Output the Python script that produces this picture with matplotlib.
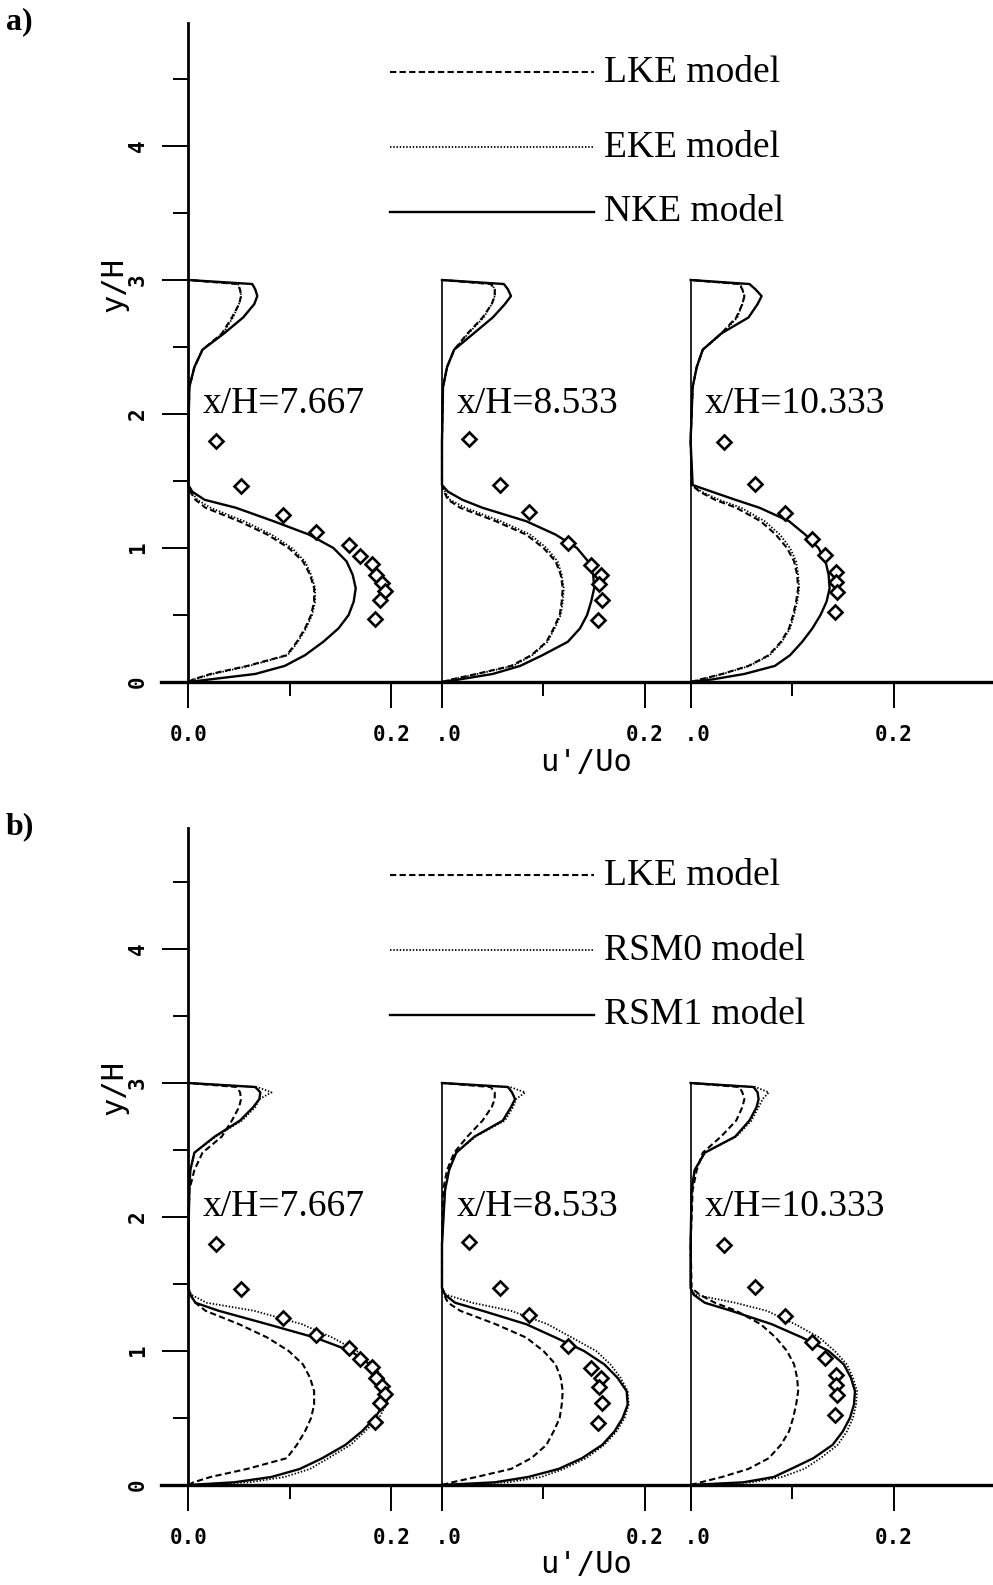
import numpy as np
import matplotlib.pyplot as plt

# wall-normal positions (y/H) shared by every computed profile
y_grid = [0.0, 0.02, 0.06, 0.12, 0.2, 0.3, 0.4, 0.5, 0.6, 0.7, 0.8, 0.9, 1.0, 1.1, 1.2,
          1.3, 1.36, 1.42, 1.47, 1.8, 2.2, 2.35, 2.48, 2.6, 2.72, 2.82, 2.88, 2.93, 2.97, 3.0]

stations = ["x/H=7.667", "x/H=8.533", "x/H=10.333"]
offsets = [0.0, 0.25, 0.495]   # horizontal shift of each station profile

# u'/Uo of each model at the three stations
lke_u = [
    [0, 0.005, 0.022, 0.058, 0.097, 0.107, 0.115, 0.121, 0.124, 0.124, 0.120, 0.113, 0.099, 0.078, 0.050,
     0.017, 0.007, 0.002, 0.0, 0.0, 0.001, 0.006, 0.014, 0.033, 0.043, 0.050, 0.052, 0.051, 0.048, 0.0],
    [0, 0.010, 0.034, 0.068, 0.088, 0.103, 0.110, 0.116, 0.118, 0.119, 0.117, 0.112, 0.100, 0.083, 0.053,
     0.018, 0.006, 0.002, 0.0, 0.0, 0.001, 0.005, 0.012, 0.025, 0.040, 0.049, 0.052, 0.052, 0.048, 0.0],
    [0, 0.010, 0.031, 0.057, 0.077, 0.089, 0.097, 0.101, 0.104, 0.106, 0.105, 0.102, 0.095, 0.084, 0.069,
     0.045, 0.024, 0.009, 0.001, 0.0, 0.002, 0.006, 0.012, 0.030, 0.045, 0.051, 0.053, 0.051, 0.048, 0.0],
]
eke_u = [
    [0, 0.006, 0.024, 0.060, 0.098, 0.108, 0.116, 0.122, 0.125, 0.125, 0.121, 0.115, 0.102, 0.082, 0.055,
     0.022, 0.009, 0.003, 0.0, 0.0, 0.001, 0.006, 0.014, 0.034, 0.044, 0.050, 0.052, 0.051, 0.049, 0.0],
    [0, 0.011, 0.035, 0.070, 0.089, 0.104, 0.111, 0.117, 0.119, 0.120, 0.118, 0.114, 0.103, 0.087, 0.058,
     0.023, 0.008, 0.003, 0.0, 0.0, 0.001, 0.005, 0.012, 0.026, 0.041, 0.049, 0.052, 0.052, 0.049, 0.0],
    [0, 0.011, 0.032, 0.058, 0.078, 0.090, 0.098, 0.102, 0.105, 0.107, 0.106, 0.104, 0.098, 0.088, 0.073,
     0.050, 0.028, 0.011, 0.001, 0.0, 0.002, 0.006, 0.012, 0.031, 0.046, 0.051, 0.053, 0.051, 0.049, 0.0],
]
nke_u = [
    [0, 0.022, 0.066, 0.095, 0.115, 0.133, 0.148, 0.158, 0.163, 0.165, 0.162, 0.156, 0.143, 0.119, 0.084,
     0.047, 0.016, 0.004, 0.0, 0.0, 0.001, 0.006, 0.014, 0.035, 0.054, 0.065, 0.068, 0.066, 0.063, 0.0],
    [0, 0.018, 0.050, 0.077, 0.099, 0.124, 0.136, 0.143, 0.147, 0.150, 0.149, 0.144, 0.133, 0.112, 0.083,
     0.040, 0.020, 0.006, 0.0, 0.0, 0.001, 0.005, 0.012, 0.031, 0.050, 0.062, 0.068, 0.065, 0.061, 0.0],
    [0, 0.022, 0.053, 0.083, 0.098, 0.110, 0.120, 0.128, 0.134, 0.137, 0.136, 0.133, 0.126, 0.113, 0.097,
     0.068, 0.044, 0.021, 0.002, 0.0, 0.002, 0.006, 0.012, 0.030, 0.057, 0.066, 0.070, 0.064, 0.058, 0.0],
]
rsm0_u = [
    [0, 0.060, 0.095, 0.120, 0.138, 0.160, 0.174, 0.188, 0.195, 0.197, 0.192, 0.182, 0.166, 0.142, 0.112,
     0.065, 0.018, 0.003, 0.0, 0.0, 0.001, 0.002, 0.006, 0.027, 0.053, 0.066, 0.070, 0.082, 0.068, 0.0],
    [0, 0.065, 0.098, 0.120, 0.142, 0.160, 0.172, 0.180, 0.184, 0.183, 0.176, 0.166, 0.152, 0.128, 0.104,
     0.068, 0.030, 0.004, 0.0, 0.0, 0.003, 0.007, 0.014, 0.033, 0.062, 0.070, 0.073, 0.082, 0.067, 0.0],
    [0, 0.060, 0.090, 0.112, 0.128, 0.145, 0.154, 0.160, 0.163, 0.164, 0.160, 0.154, 0.142, 0.127, 0.103,
     0.075, 0.044, 0.004, 0.0, 0.0, 0.001, 0.004, 0.014, 0.045, 0.060, 0.067, 0.071, 0.077, 0.064, 0.0],
]
rsm1_u = [
    [0, 0.045, 0.082, 0.110, 0.132, 0.155, 0.171, 0.184, 0.192, 0.194, 0.189, 0.179, 0.160, 0.125, 0.078,
     0.030, 0.007, 0.002, 0.0, 0.0, 0.001, 0.002, 0.006, 0.026, 0.051, 0.064, 0.070, 0.071, 0.066, 0.0],
    [0, 0.052, 0.085, 0.115, 0.138, 0.158, 0.170, 0.178, 0.183, 0.182, 0.173, 0.160, 0.140, 0.112, 0.083,
     0.040, 0.013, 0.003, 0.0, 0.0, 0.003, 0.007, 0.014, 0.032, 0.060, 0.068, 0.072, 0.069, 0.065, 0.0],
    [0, 0.052, 0.082, 0.099, 0.121, 0.140, 0.150, 0.157, 0.161, 0.162, 0.158, 0.151, 0.136, 0.110, 0.080,
     0.040, 0.014, 0.003, 0.0, 0.0, 0.001, 0.004, 0.014, 0.044, 0.058, 0.065, 0.067, 0.066, 0.062, 0.0],
]

# measurements
exp_u = [
    [0.027, 0.052, 0.093, 0.126, 0.158, 0.169, 0.181, 0.185, 0.191, 0.194, 0.189, 0.184],
    [0.027, 0.057, 0.086, 0.124, 0.147, 0.157, 0.155, 0.158, 0.154],
    [0.033, 0.063, 0.093, 0.120, 0.132, 0.143, 0.143, 0.144, 0.142],
]
exp_y = [
    [1.80, 1.46, 1.25, 1.12, 1.02, 0.94, 0.88, 0.80, 0.74, 0.68, 0.61, 0.47],
    [1.81, 1.47, 1.27, 1.04, 0.87, 0.80, 0.73, 0.61, 0.46],
    [1.79, 1.48, 1.26, 1.07, 0.95, 0.82, 0.75, 0.67, 0.52],
]

x_ticks = [0.0, 0.2, 0.25, 0.45, 0.495, 0.695]
x_ticklabels = ["0.0", "0.2", " .0", "0.2", " .0", "0.2"]
x_minor = [0.1, 0.35, 0.595]

SERIF = "Liberation Serif"
MONO = "DejaVu Sans Mono"

dashed = dict(color="k", lw=1.5, ls=(0, (3.0, 1.6)))
dotted = dict(color="k", lw=1.3, ls=(0, (0.8, 1.0)))
solid = dict(color="k", lw=1.7, ls="-")

W, H = 993, 1585
fig = plt.figure(figsize=(W / 100, H / 100), dpi=100)


def panel(y0_px, ytop, models, names, tag, tag_y):
    left = 161
    ax = fig.add_axes([left / W, 1 - y0_px / H, (W - left) / W, ytop * 134 / H])
    ax.set_xlim(-0.0269, 0.793)
    ax.set_ylim(0, ytop)

    for s in ["top", "right"]:
        ax.spines[s].set_visible(False)
    ax.spines["left"].set_position(("data", 0))
    ax.spines["left"].set_linewidth(2.0)
    ax.spines["bottom"].set_linewidth(2.4)

    ax.set_yticks([0, 1, 2, 3, 4])
    ax.set_yticks([0.5, 1.5, 2.5, 3.5, 4.5], minor=True)
    ax.set_xticks(x_ticks)
    ax.set_xticklabels(x_ticklabels)
    ax.set_xticks(x_minor, minor=True)
    ax.tick_params(which="major", axis="y", length=19, width=1.4, pad=10,
                   labelsize=15, labelrotation=90)
    ax.tick_params(which="minor", axis="y", length=11, width=1.4)
    ax.tick_params(which="major", axis="x", length=19, width=1.4, pad=12, labelsize=15)
    ax.tick_params(which="minor", axis="x", length=10, width=1.4)
    for lab in ax.get_xticklabels() + ax.get_yticklabels():
        lab.set_family(MONO)
        lab.set_weight("bold")
    for lab in ax.get_yticklabels():
        lab.set_va("center")

    for k, off in enumerate(offsets):
        if k > 0:
            ax.plot([off, off], [0, 3.0], color="k", lw=1.2, clip_on=False)
        for u, style in models:
            ax.plot(off + np.array(u[k]), y_grid, clip_on=False, **style)
        ax.plot(off + np.array(exp_u[k]), exp_y[k], ls="none", marker="D", ms=7.2,
                mfc="white", mec="k", mew=1.9, clip_on=False)
        ax.text(off + 0.014, 2.01, stations[k], fontsize=27, family=SERIF,
                ha="left", va="baseline")

    # key
    key_y = [4.55, 3.99, 3.51]
    for (u, style), name, yk in zip(models, names, key_y):
        ax.plot([0.199, 0.400], [yk, yk], **style)
        ax.text(0.410, yk, name, fontsize=27, family=SERIF, ha="left", va="center")

    fig.text(6 / W, 1 - tag_y / H, tag, fontsize=23, family=SERIF, weight="bold",
             ha="left", va="center")
    fig.text(114 / W, 1 - (y0_px - 398) / H, "y/H", rotation=90, fontsize=22,
             family=MONO, ha="center", va="center")
    fig.text(586 / W, 1 - (y0_px + 80) / H, "u'/Uo", fontsize=22, family=MONO,
             ha="center", va="center")
    return ax


panel(682, 4.92,
      [(lke_u, dashed), (eke_u, dotted), (nke_u, solid)],
      ["LKE model", "EKE model", "NKE model"], "a)", 22)
panel(1485, 4.90,
      [(lke_u, dashed), (rsm0_u, dotted), (rsm1_u, solid)],
      ["LKE model", "RSM0 model", "RSM1 model"], "b)", 827)

fig.savefig("out.png", dpi=100)
